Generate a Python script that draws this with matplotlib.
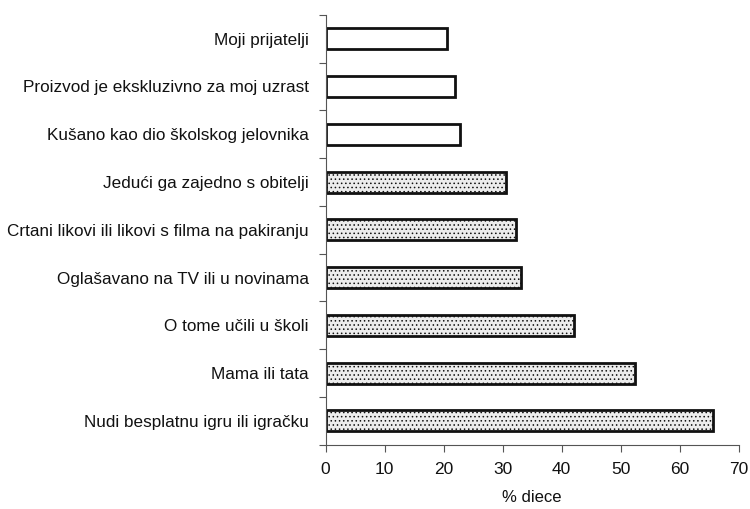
import matplotlib

matplotlib.use("Agg")

import matplotlib.pyplot as plt
import numpy as np

# top to bottom as in the picture
categories = [
    "Moji prijatelji",
    "Proizvod je ekskluzivno za moj uzrast",
    "Kušano kao dio školskog jelovnika",
    "Jedući ga zajedno s obitelji",
    "Crtani likovi ili likovi s filma na pakiranju",
    "Oglašavano na TV ili u novinama",
    "O tome učili u školi",
    "Mama ili tata",
    "Nudi besplatnu igru ili igračku",
]
values = [20.5, 21.9, 22.8, 30.5, 32.3, 33.2, 42.1, 52.5, 65.7]
shaded = [False, False, False, True, True, True, True, True, True]
x_ticks = [0, 10, 20, 30, 40, 50, 60, 70]

plt.rcParams["font.family"] = ["Liberation Sans", "DejaVu Sans"]
plt.rcParams["hatch.color"] = "#d2d2d2"
plt.rcParams["hatch.linewidth"] = 0.6

fig = plt.figure(figsize=(7.5, 5.09), dpi=100)
ax = fig.add_axes([0.434, 0.126, 0.551, 0.845])

n = len(categories)
y = np.arange(n)[::-1]
for yi, v, s in zip(y, values, shaded):
    ax.barh(yi, v, height=0.44, facecolor="#ececec" if s else "white",
            edgecolor="#111111", linewidth=2.0, hatch="...." if s else None)

ax.set_ylim(-0.5, n - 0.5)
ax.set_xlim(0, 70)
ax.set_yticks(y)
ax.set_yticklabels(categories, fontsize=12.3, color="#111111")
ax.set_yticks(np.arange(-0.5, n), minor=True)
ax.tick_params(axis="y", which="major", length=0, pad=12)
ax.tick_params(axis="y", which="minor", length=5, width=0.8, color="#555555")
ax.set_xticks(x_ticks)
ax.tick_params(axis="x", length=5, width=0.8, color="#555555", labelsize=12.5,
               pad=7, labelcolor="#111111")
ax.set_xlabel("% diece", fontsize=12, color="#111111", labelpad=10)

for side in ["top", "right"]:
    ax.spines[side].set_visible(False)
for side in ["left", "bottom"]:
    ax.spines[side].set_linewidth(0.8)
    ax.spines[side].set_color("#555555")

fig.savefig("out.png", dpi=100)
